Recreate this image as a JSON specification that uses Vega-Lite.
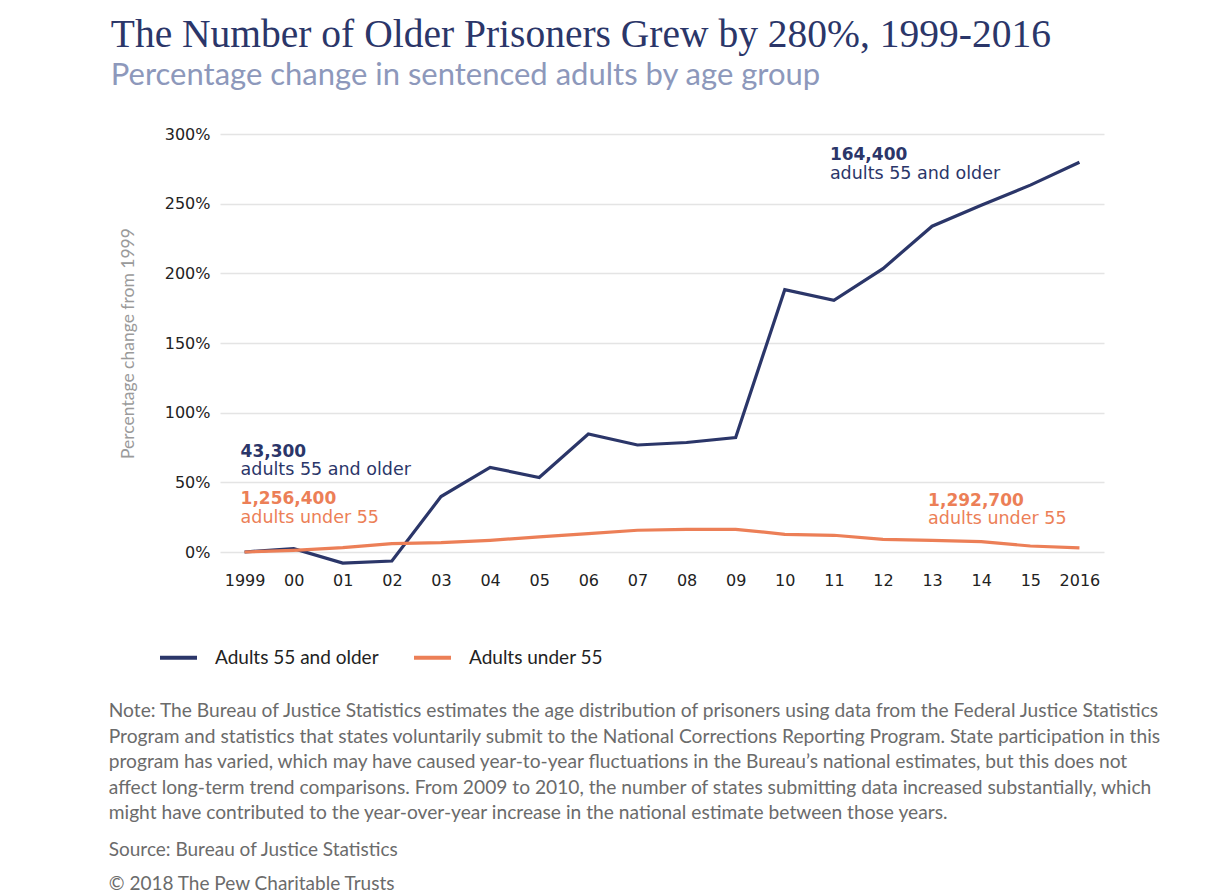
{
  "$schema": "https://vega.github.io/schema/vega-lite/v6.json",
  "background": "white",
  "padding": {"left": 108, "top": 14, "right": 5, "bottom": 5},
  "title": {
    "text": "The Number of Older Prisoners Grew by 280%, 1999-2016",
    "subtitle": "Percentage change in sentenced adults by age group",
    "anchor": "start",
    "dx": 2,
    "font": "Liberation Serif",
    "fontSize": 39.5,
    "fontWeight": "normal",
    "color": "#2b3669",
    "subtitleFont": "Lato",
    "subtitleFontSize": 31,
    "subtitleColor": "#8d98bb",
    "subtitlePadding": 6,
    "offset": 34
  },
  "datasets": {
    "series": [
      {"series": "Adults 55 and older", "year": 1999, "pct": 0},
      {"series": "Adults 55 and older", "year": 2000, "pct": 2.4},
      {"series": "Adults 55 and older", "year": 2001, "pct": -8},
      {"series": "Adults 55 and older", "year": 2002, "pct": -6.5},
      {"series": "Adults 55 and older", "year": 2003, "pct": 39.8},
      {"series": "Adults 55 and older", "year": 2004, "pct": 60.7},
      {"series": "Adults 55 and older", "year": 2005, "pct": 53.5},
      {"series": "Adults 55 and older", "year": 2006, "pct": 84.7},
      {"series": "Adults 55 and older", "year": 2007, "pct": 76.8},
      {"series": "Adults 55 and older", "year": 2008, "pct": 78.6},
      {"series": "Adults 55 and older", "year": 2009, "pct": 82.2},
      {"series": "Adults 55 and older", "year": 2010, "pct": 188.3},
      {"series": "Adults 55 and older", "year": 2011, "pct": 180.6},
      {"series": "Adults 55 and older", "year": 2012, "pct": 203.4},
      {"series": "Adults 55 and older", "year": 2013, "pct": 233.8},
      {"series": "Adults 55 and older", "year": 2014, "pct": 248.9},
      {"series": "Adults 55 and older", "year": 2015, "pct": 263.3},
      {"series": "Adults 55 and older", "year": 2016, "pct": 279.7},
      {"series": "Adults under 55", "year": 1999, "pct": 0},
      {"series": "Adults under 55", "year": 2000, "pct": 1.2},
      {"series": "Adults under 55", "year": 2001, "pct": 3.1},
      {"series": "Adults under 55", "year": 2002, "pct": 6},
      {"series": "Adults under 55", "year": 2003, "pct": 6.7},
      {"series": "Adults under 55", "year": 2004, "pct": 8.4},
      {"series": "Adults under 55", "year": 2005, "pct": 10.8},
      {"series": "Adults under 55", "year": 2006, "pct": 13.2},
      {"series": "Adults under 55", "year": 2007, "pct": 15.6},
      {"series": "Adults under 55", "year": 2008, "pct": 16.3},
      {"series": "Adults under 55", "year": 2009, "pct": 16.3},
      {"series": "Adults under 55", "year": 2010, "pct": 12.7},
      {"series": "Adults under 55", "year": 2011, "pct": 12},
      {"series": "Adults under 55", "year": 2012, "pct": 9.1},
      {"series": "Adults under 55", "year": 2013, "pct": 8.4},
      {"series": "Adults under 55", "year": 2014, "pct": 7.4},
      {"series": "Adults under 55", "year": 2015, "pct": 4.3},
      {"series": "Adults under 55", "year": 2016, "pct": 2.9}
    ],
    "labels": [
      {"series": "Adults 55 and older", "year": 1999, "pct": 68, "label": "43,300", "kind": "number"},
      {"series": "Adults 55 and older", "year": 1999, "pct": 55, "label": "adults 55 and older", "kind": "desc"},
      {"series": "Adults under 55", "year": 1999, "pct": 34.5, "label": "1,256,400", "kind": "number"},
      {"series": "Adults under 55", "year": 1999, "pct": 21, "label": "adults under 55", "kind": "desc"},
      {"series": "Adults 55 and older", "year": 2011, "pct": 281, "label": "164,400", "kind": "number"},
      {"series": "Adults 55 and older", "year": 2011, "pct": 267.5, "label": "adults 55 and older", "kind": "desc"},
      {"series": "Adults under 55", "year": 2013, "pct": 33, "label": "1,292,700", "kind": "number"},
      {"series": "Adults under 55", "year": 2013, "pct": 20, "label": "adults under 55", "kind": "desc"}
    ]
  },
  "vconcat": [
    {
      "width": 884,
      "height": 418,
      "title": {
        "text": [
          "Note: The Bureau of Justice Statistics estimates the age distribution of prisoners using data from the Federal Justice Statistics",
          "Program and statistics that states voluntarily submit to the National Corrections Reporting Program. State participation in this",
          "program has varied, which may have caused year-to-year fluctuations in the Bureau’s national estimates, but this does not",
          "affect long-term trend comparisons. From 2009 to 2010, the number of states submitting data increased substantially, which",
          "might have contributed to the year-over-year increase in the national estimate between those years."
        ],
        "subtitle": ["Source: Bureau of Justice Statistics", "© 2018 The Pew Charitable Trusts"],
        "orient": "bottom",
        "anchor": "start",
        "dx": -10.5,
        "offset": 114,
        "font": "Lato",
        "fontSize": 19.2,
        "fontWeight": "normal",
        "color": "#6b6b6b",
        "lineHeight": 25.5,
        "subtitleFont": "Lato",
        "subtitleFontSize": 19,
        "subtitleColor": "#6b6b6b",
        "subtitleLineHeight": 34,
        "subtitlePadding": 18
      },
      "encoding": {
        "x": {
          "field": "year",
          "type": "quantitative",
          "scale": {"domain": [1998.5, 2016.5], "nice": false, "zero": false},
          "axis": {
            "values": [1999, 2000, 2001, 2002, 2003, 2004, 2005, 2006, 2007, 2008, 2009, 2010, 2011, 2012, 2013, 2014, 2015, 2016],
            "labelExpr": "datum.value == 1999 || datum.value == 2016 ? '' + datum.value : slice('' + datum.value, 2)",
            "title": null,
            "grid": false,
            "ticks": false,
            "domain": false,
            "labelPadding": 20,
            "labelFont": "DejaVu Sans",
            "labelFontSize": 16,
            "labelColor": "#222222"
          }
        },
        "y": {
          "field": "pct",
          "type": "quantitative",
          "scale": {"domain": [0, 300], "nice": false},
          "axis": {
            "values": [0, 50, 100, 150, 200, 250, 300],
            "labelExpr": "datum.value + '%'",
            "title": "Percentage change from 1999",
            "titleFont": "Lato",
            "titleFontSize": 17.5,
            "titleFontWeight": "normal",
            "titleColor": "#9a9a9a",
            "titlePadding": 27,
            "grid": true,
            "gridColor": "#e4e4e4",
            "gridWidth": 1.5,
            "ticks": false,
            "domain": false,
            "labelPadding": 10,
            "labelFont": "DejaVu Sans",
            "labelFontSize": 16,
            "labelColor": "#222222"
          }
        }
      },
      "layer": [
        {
          "data": {"name": "series"},
          "mark": {"type": "line", "strokeWidth": 3.2},
          "encoding": {
            "color": {
              "field": "series",
              "type": "nominal",
              "scale": {
                "domain": ["Adults 55 and older", "Adults under 55"],
                "range": ["#2b3669", "#ec7f57"]
              },
              "legend": {
                "title": null,
                "orient": "none",
                "direction": "horizontal",
                "legendX": -62,
                "legendY": 503,
                "symbolType": "stroke",
                "symbolSize": 1369,
                "symbolStrokeWidth": 4,
                "labelFont": "Lato",
                "labelFontSize": 19,
                "labelColor": "#222222",
                "labelOffset": 16,
                "labelLimit": 400,
                "columnPadding": 27,
                "padding": 0
              }
            }
          }
        },
        {
          "data": {"name": "labels"},
          "transform": [{"filter": "datum.kind == 'number'"}],
          "mark": {"type": "text", "align": "left", "baseline": "alphabetic", "dx": -4, "font": "DejaVu Sans", "fontSize": 17, "fontWeight": "bold"},
          "encoding": {
            "text": {"field": "label"},
            "color": {"field": "series", "type": "nominal", "legend": null}
          }
        },
        {
          "data": {"name": "labels"},
          "transform": [{"filter": "datum.kind == 'desc'"}],
          "mark": {"type": "text", "align": "left", "baseline": "alphabetic", "dx": -4, "font": "DejaVu Sans", "fontSize": 17.5},
          "encoding": {
            "text": {"field": "label"},
            "color": {"field": "series", "type": "nominal", "legend": null}
          }
        }
      ]
    }
  ],
  "config": {
    "view": {"stroke": null}
  }
}
